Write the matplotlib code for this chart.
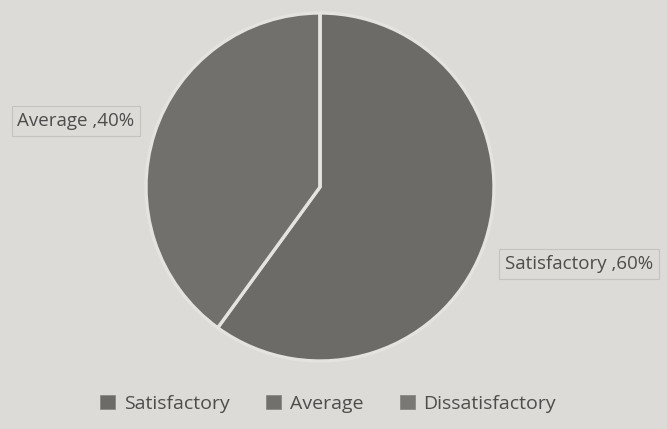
import matplotlib.pyplot as plt
from matplotlib.patches import Patch

# data
categories = ['Satisfactory', 'Average', 'Dissatisfactory']
shares = [60, 40, 0]
label_text = ['Satisfactory ,60%', 'Average ,40%', '']

bg = '#dcdbd8'
wedge_colors = ['#6d6b68', '#72706d', '#7a7875']
text_color = '#4e4d4b'

plt.rcParams['font.family'] = ['Open Sans', 'DejaVu Sans']

fig = plt.figure(figsize=(6.67, 4.29), dpi=100)
fig.patch.set_facecolor(bg)
ax = fig.add_axes([0, 0, 1, 1])
ax.set_facecolor(bg)
ax.set_xlim(0, 667)
ax.set_ylim(0, 429)
ax.set_aspect('equal')
ax.axis('off')

wedges, _ = ax.pie(shares, colors=wedge_colors, startangle=90, counterclock=False,
                   center=(320, 242), radius=174,
                   wedgeprops=dict(edgecolor='#e4e3e0', linewidth=2.4))
ax.set_xlim(0, 667)
ax.set_ylim(0, 429)

# data labels in light boxes
box = dict(boxstyle='square,pad=0.3', facecolor=bg, edgecolor='#c4c3c0', linewidth=0.8)
ax.text(579, 165, label_text[0], ha='center', va='center', fontsize=13.5,
        color=text_color, bbox=box)
ax.text(76, 308, label_text[1], ha='center', va='center', fontsize=13.5,
        color=text_color, bbox=box)

# legend squares without the white wedge edge
handles = [Patch(facecolor=w.get_facecolor(), edgecolor='#8a8885', linewidth=0.6)
           for w in wedges]
leg = ax.legend(handles, categories, loc='center', bbox_to_anchor=(0.492, 0.058),
                ncol=3, frameon=False, fontsize=14, handlelength=0.75,
                handleheight=0.75, handletextpad=0.45, columnspacing=1.9)
for t in leg.get_texts():
    t.set_color(text_color)

fig.savefig('out.png', dpi=100, facecolor=bg)
